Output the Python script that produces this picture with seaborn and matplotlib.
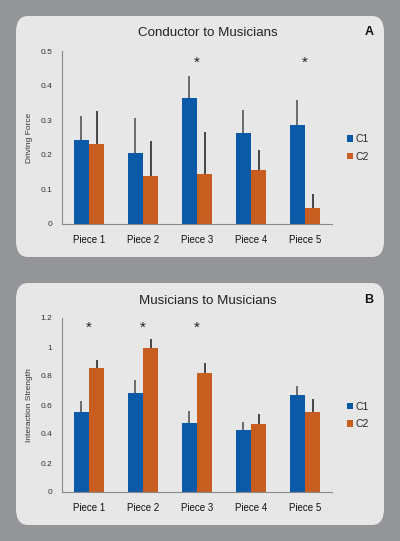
import matplotlib
matplotlib.use("Agg")
import matplotlib.pyplot as plt
from matplotlib.patches import FancyBboxPatch
import seaborn as sns
import pandas as pd

# data
pieces = ["Piece 1", "Piece 2", "Piece 3", "Piece 4", "Piece 5"]
groups = ["C1", "C2"]

drive_c1 = [0.243, 0.206, 0.363, 0.264, 0.285]
drive_c2 = [0.230, 0.138, 0.144, 0.157, 0.047]
drive_err_c1 = [0.070, 0.100, 0.066, 0.065, 0.073]
drive_err_c2 = [0.097, 0.101, 0.121, 0.058, 0.040]
drive_stars = ["Piece 3", "Piece 5"]

inter_c1 = [0.552, 0.683, 0.473, 0.425, 0.669]
inter_c2 = [0.852, 0.992, 0.819, 0.466, 0.552]
inter_err_c1 = [0.078, 0.090, 0.083, 0.055, 0.063]
inter_err_c2 = [0.060, 0.065, 0.070, 0.072, 0.087]
inter_stars = ["Piece 1", "Piece 2", "Piece 3"]

BLUE = "#0a5aa8"
ORANGE = "#c85d20"
BG = "#939598"
PANEL = "#e7e7e7"
FONT = "Liberation Sans"

sns.set_theme(style="white")
plt.rcParams["font.family"] = [FONT, "DejaVu Sans"]

fig = plt.figure(figsize=(4.0, 5.41), dpi=100)
fig.patch.set_facecolor(BG)

W, H = 400.0, 541.0


def add_panel(top_px, bottom_px):
    x0, x1 = 16 / W, 384 / W
    y0, y1 = 1 - bottom_px / H, 1 - top_px / H
    box = FancyBboxPatch((x0, y0), x1 - x0, y1 - y0,
                         boxstyle="round,pad=0,rounding_size=0.03",
                         transform=fig.transFigure, facecolor=PANEL,
                         edgecolor="none", zorder=-5)
    fig.patches.append(box)


def draw(ax, c1, c2, e1, e2, ymax, yticks, ticklabels, ylabel, stars, star_y):
    df = pd.DataFrame({
        "piece": pieces * 2,
        "group": [groups[0]] * len(pieces) + [groups[1]] * len(pieces),
        "value": c1 + c2,
    })
    sns.barplot(data=df, x="piece", y="value", hue="group", order=pieces,
                hue_order=groups, palette=[BLUE, ORANGE], width=0.57,
                gap=0, saturation=1, errorbar=None, linewidth=0, ax=ax)
    err_cols = ["#4a4a4a", "#1a1a1a"]
    for cont, errs, col in zip(ax.containers, [e1, e2], err_cols):
        xs = [b.get_x() + b.get_width() / 2 for b in cont]
        hs = [b.get_height() for b in cont]
        ax.errorbar(xs, hs, yerr=[[0] * len(errs), errs], fmt="none",
                    ecolor=col, elinewidth=1.1, capsize=0, zorder=3)
    for s in stars:
        ax.text(pieces.index(s), star_y, "*", ha="center", va="center",
                fontsize=11, color="#222222")
    ax.patch.set_visible(False)
    ax.set_xlim(-0.5, 4.5)
    ax.set_ylim(0, ymax)
    ax.set_yticks(yticks)
    ax.set_yticklabels(ticklabels, fontsize=6, color="#333333")
    ax.tick_params(axis="y", length=0, pad=7)
    ax.tick_params(axis="x", length=0, pad=8, labelsize=7, labelcolor="#111111")
    ax.set_xlabel("")
    ax.set_ylabel(ylabel, fontsize=6, color="#333333")
    ax.yaxis.set_label_coords(-0.108, 0.5)
    for side in ["top", "right"]:
        ax.spines[side].set_visible(False)
    for side in ["left", "bottom"]:
        ax.spines[side].set_color("#8a8a8a")
        ax.spines[side].set_linewidth(0.8)
    ax.legend(loc="center left", bbox_to_anchor=(1.02, 0.44), frameon=False,
              fontsize=7.5, handlelength=0.6, handleheight=0.6,
              handletextpad=0.2, labelspacing=0.7)


# panel A
add_panel(16, 257)
axA = fig.add_axes([62 / W, 1 - 224 / H, 270 / W, 173 / H])
draw(axA, drive_c1, drive_c2, drive_err_c1, drive_err_c2, 0.5,
     [0, 0.1, 0.2, 0.3, 0.4, 0.5], ["0", "0.1", "0.2", "0.3", "0.4", "0.5"],
     "Driving Force", drive_stars, 0.467)
fig.text(208 / W, 1 - 33 / H, "Conductor to Musicians", ha="center",
         va="center", fontsize=9.6, color="#222222")
fig.text(369 / W, 1 - 32 / H, "A", ha="center", va="center", fontsize=9,
         fontweight="bold", color="#111111")

# panel B
add_panel(283, 525)
axB = fig.add_axes([62 / W, 1 - 492 / H, 270 / W, 174 / H])
draw(axB, inter_c1, inter_c2, inter_err_c1, inter_err_c2, 1.2,
     [0, 0.2, 0.4, 0.6, 0.8, 1.0, 1.2], ["0", "0.2", "0.4", "0.6", "0.8", "1", "1.2"],
     "Interaction Strength", inter_stars, 1.13)
fig.text(208 / W, 1 - 301 / H, "Musicians to Musicians", ha="center",
         va="center", fontsize=9.6, color="#222222")
fig.text(369 / W, 1 - 300 / H, "B", ha="center", va="center", fontsize=9,
         fontweight="bold", color="#111111")

fig.savefig("out.png", dpi=100, facecolor=BG)
